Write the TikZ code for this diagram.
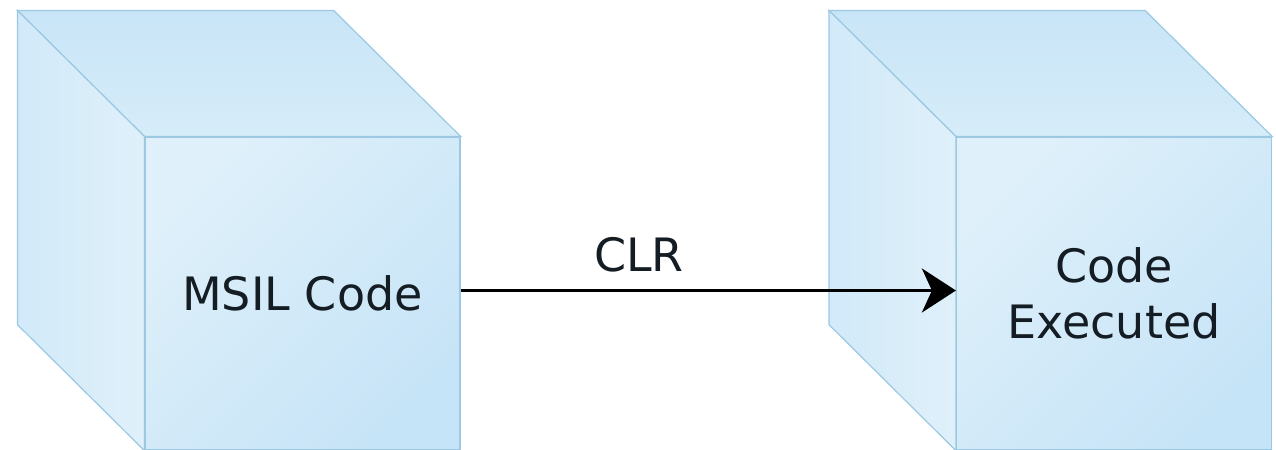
\documentclass[tikz,border=0pt]{standalone}
\usepackage{fontspec}
\setmainfont{DejaVu Sans}
\usetikzlibrary{arrows.meta, positioning}
\definecolor{cubeedge}{HTML}{9CC8E2}
\definecolor{facelight}{HTML}{DFF0FA}
\definecolor{facedark}{HTML}{C6E4F7}
\definecolor{toplight}{HTML}{D6ECF9}
\definecolor{topdark}{HTML}{C8E5F7}
\definecolor{inktext}{HTML}{141C24}

\tikzset{
    front/.style={draw=cubeedge, line width=0.6pt,
        left color=facelight, right color=facedark, shading angle=45,
        minimum width=157.5pt, minimum height=156.5pt, inner sep=0pt,
        align=center, text=inktext, font=\fontsize{23}{28}\selectfont},
    topface/.style={draw=cubeedge, line width=0.6pt, top color=topdark, bottom color=toplight},
    sideface/.style={draw=cubeedge, line width=0.6pt, left color=facedark!80!white, right color=facelight},
    flow/.style={-{Stealth[length=17pt, width=22pt, inset=5pt]}, line width=1.5pt}
}

\begin{document}
\begin{tikzpicture}[x=0.5pt, y=-0.5pt]
    \useasboundingbox (0, 0) rectangle (1276, 450);

    \node[front] (msil) at (302.5, 293.5) {MSIL Code};
    \node[front] (exec) at (1114, 293.5) {Code\\Executed};

    \foreach \f in {msil, exec} {
        \draw[topface] (\f.north west) -- (\f.north east) -- ++(-127, -126) -- ([shift={(-127, -126)}]\f.north west) -- cycle;
        \draw[sideface] (\f.north west) -- ++(-127, -126) -- ([shift={(-127, -126)}]\f.south west) -- (\f.south west) -- cycle;
    }

    \draw[flow] ([yshift=1.5pt]msil.east) -- node[pos=0.36, above=5pt, text=inktext, font=\fontsize{23}{28}\selectfont] (clr) {CLR} ([yshift=1.5pt]exec.west);
\end{tikzpicture}
\end{document}
